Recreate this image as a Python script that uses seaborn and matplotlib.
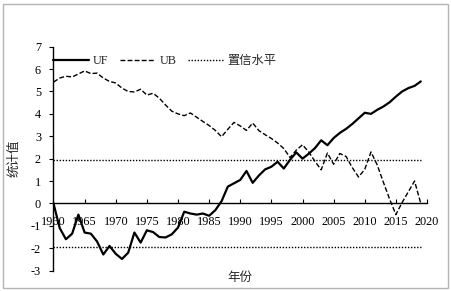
import numpy as np
import pandas as pd
import seaborn as sns
import matplotlib.pyplot as plt
from matplotlib.patches import Rectangle

# Mann-Kendall 突变检验 statistics, 1960-2019
years = list(range(1960, 2020))
uf = [0, -1.1, -1.6, -1.35, -0.5, -1.3, -1.35, -1.7, -2.28, -1.9,
      -2.25, -2.48, -2.2, -1.3, -1.75, -1.2, -1.28, -1.5, -1.52, -1.38,
      -1.08, -0.37, -0.45, -0.5, -0.45, -0.55, -0.3, 0.1, 0.75, 0.9,
      1.05, 1.45, 0.92, 1.25, 1.52, 1.64, 1.86, 1.56, 1.95, 2.28,
      2.0, 2.22, 2.47, 2.82, 2.6, 2.92, 3.15, 3.33, 3.55, 3.8,
      4.05, 4.0, 4.18, 4.33, 4.52, 4.77, 5.0, 5.15, 5.25, 5.45]
ub = [5.42, 5.6, 5.68, 5.65, 5.78, 5.92, 5.8, 5.82, 5.6, 5.45,
      5.38, 5.15, 5.0, 4.98, 5.1, 4.84, 4.92, 4.7, 4.4, 4.12,
      4.0, 3.92, 4.04, 3.85, 3.66, 3.48, 3.26, 2.98, 3.31, 3.62,
      3.46, 3.26, 3.59, 3.25, 3.07, 2.9, 2.7, 2.45, 2.05, 2.38,
      2.62, 2.3, 1.88, 1.5, 2.25, 1.75, 2.23, 2.1, 1.6, 1.18,
      1.52, 2.3, 1.72, 0.94, 0.19, -0.5, 0.04, 0.52, 1.0, 0.0]
conf = 1.96

df = pd.DataFrame({"year": years, "UF": uf, "UB": ub})

sns.set_style("white")
plt.rcParams['font.family'] = ['Liberation Serif', 'Noto Sans CJK SC']
plt.rcParams['axes.unicode_minus'] = False

fig = plt.figure(figsize=(4.51, 2.91), dpi=100)
ax = fig.add_axes([0.1186, 0.0701, 0.8282, 0.7694])

sns.lineplot(data=df, x="year", y="UF", ax=ax, color="black", lw=1.6, label="UF")
sns.lineplot(data=df, x="year", y="UB", ax=ax, color="black", lw=1.0,
             dashes=False, label="UB").lines[-1].set_dashes((3.5, 1.6))
sns.lineplot(x=years, y=[conf] * len(years), ax=ax, color="black", lw=1.0,
             label="置信水平").lines[-1].set_dashes((1, 1.2))
sns.lineplot(x=years, y=[-conf] * len(years), ax=ax, color="black", lw=1.0).lines[-1].set_dashes((1, 1.2))

ax.set_xlim(1960, 2020)
ax.set_ylim(-3, 7)
ax.set_xticks(range(1960, 2021, 5))
ax.set_yticks(range(-3, 8))

for s in ["top", "right"]:
    ax.spines[s].set_visible(False)
ax.spines["bottom"].set_position(("data", 0))
ax.spines["bottom"].set_color("black")
ax.spines["left"].set_color("black")
ax.spines["bottom"].set_linewidth(1.0)
ax.spines["left"].set_linewidth(1.0)

ax.tick_params(axis="x", direction="in", length=3, width=0.8, pad=9, labelsize=8.8, colors="black", bottom=True)
ax.tick_params(axis="y", direction="out", length=3, width=0.8, pad=6, labelsize=8.8, colors="black", left=True)

ax.set_xlabel("年份", fontsize=9)
ax.set_ylabel("统计值", fontsize=9)
ax.xaxis.set_label_coords(0.5, -0.005)
ax.yaxis.set_label_coords(-0.088, 0.5)

ax.legend(loc="center left", bbox_to_anchor=(0.0, 0.936), ncol=3, frameon=False,
          fontsize=8.8, handlelength=2.9, handletextpad=0.35, columnspacing=0.9,
          borderpad=0, borderaxespad=0)

fig.patches.append(Rectangle((0.0067, 0.0103), 0.9867, 0.976, transform=fig.transFigure,
                             fill=False, edgecolor="#b4b4b4", lw=1.0))

fig.savefig("out.png", dpi=100)
